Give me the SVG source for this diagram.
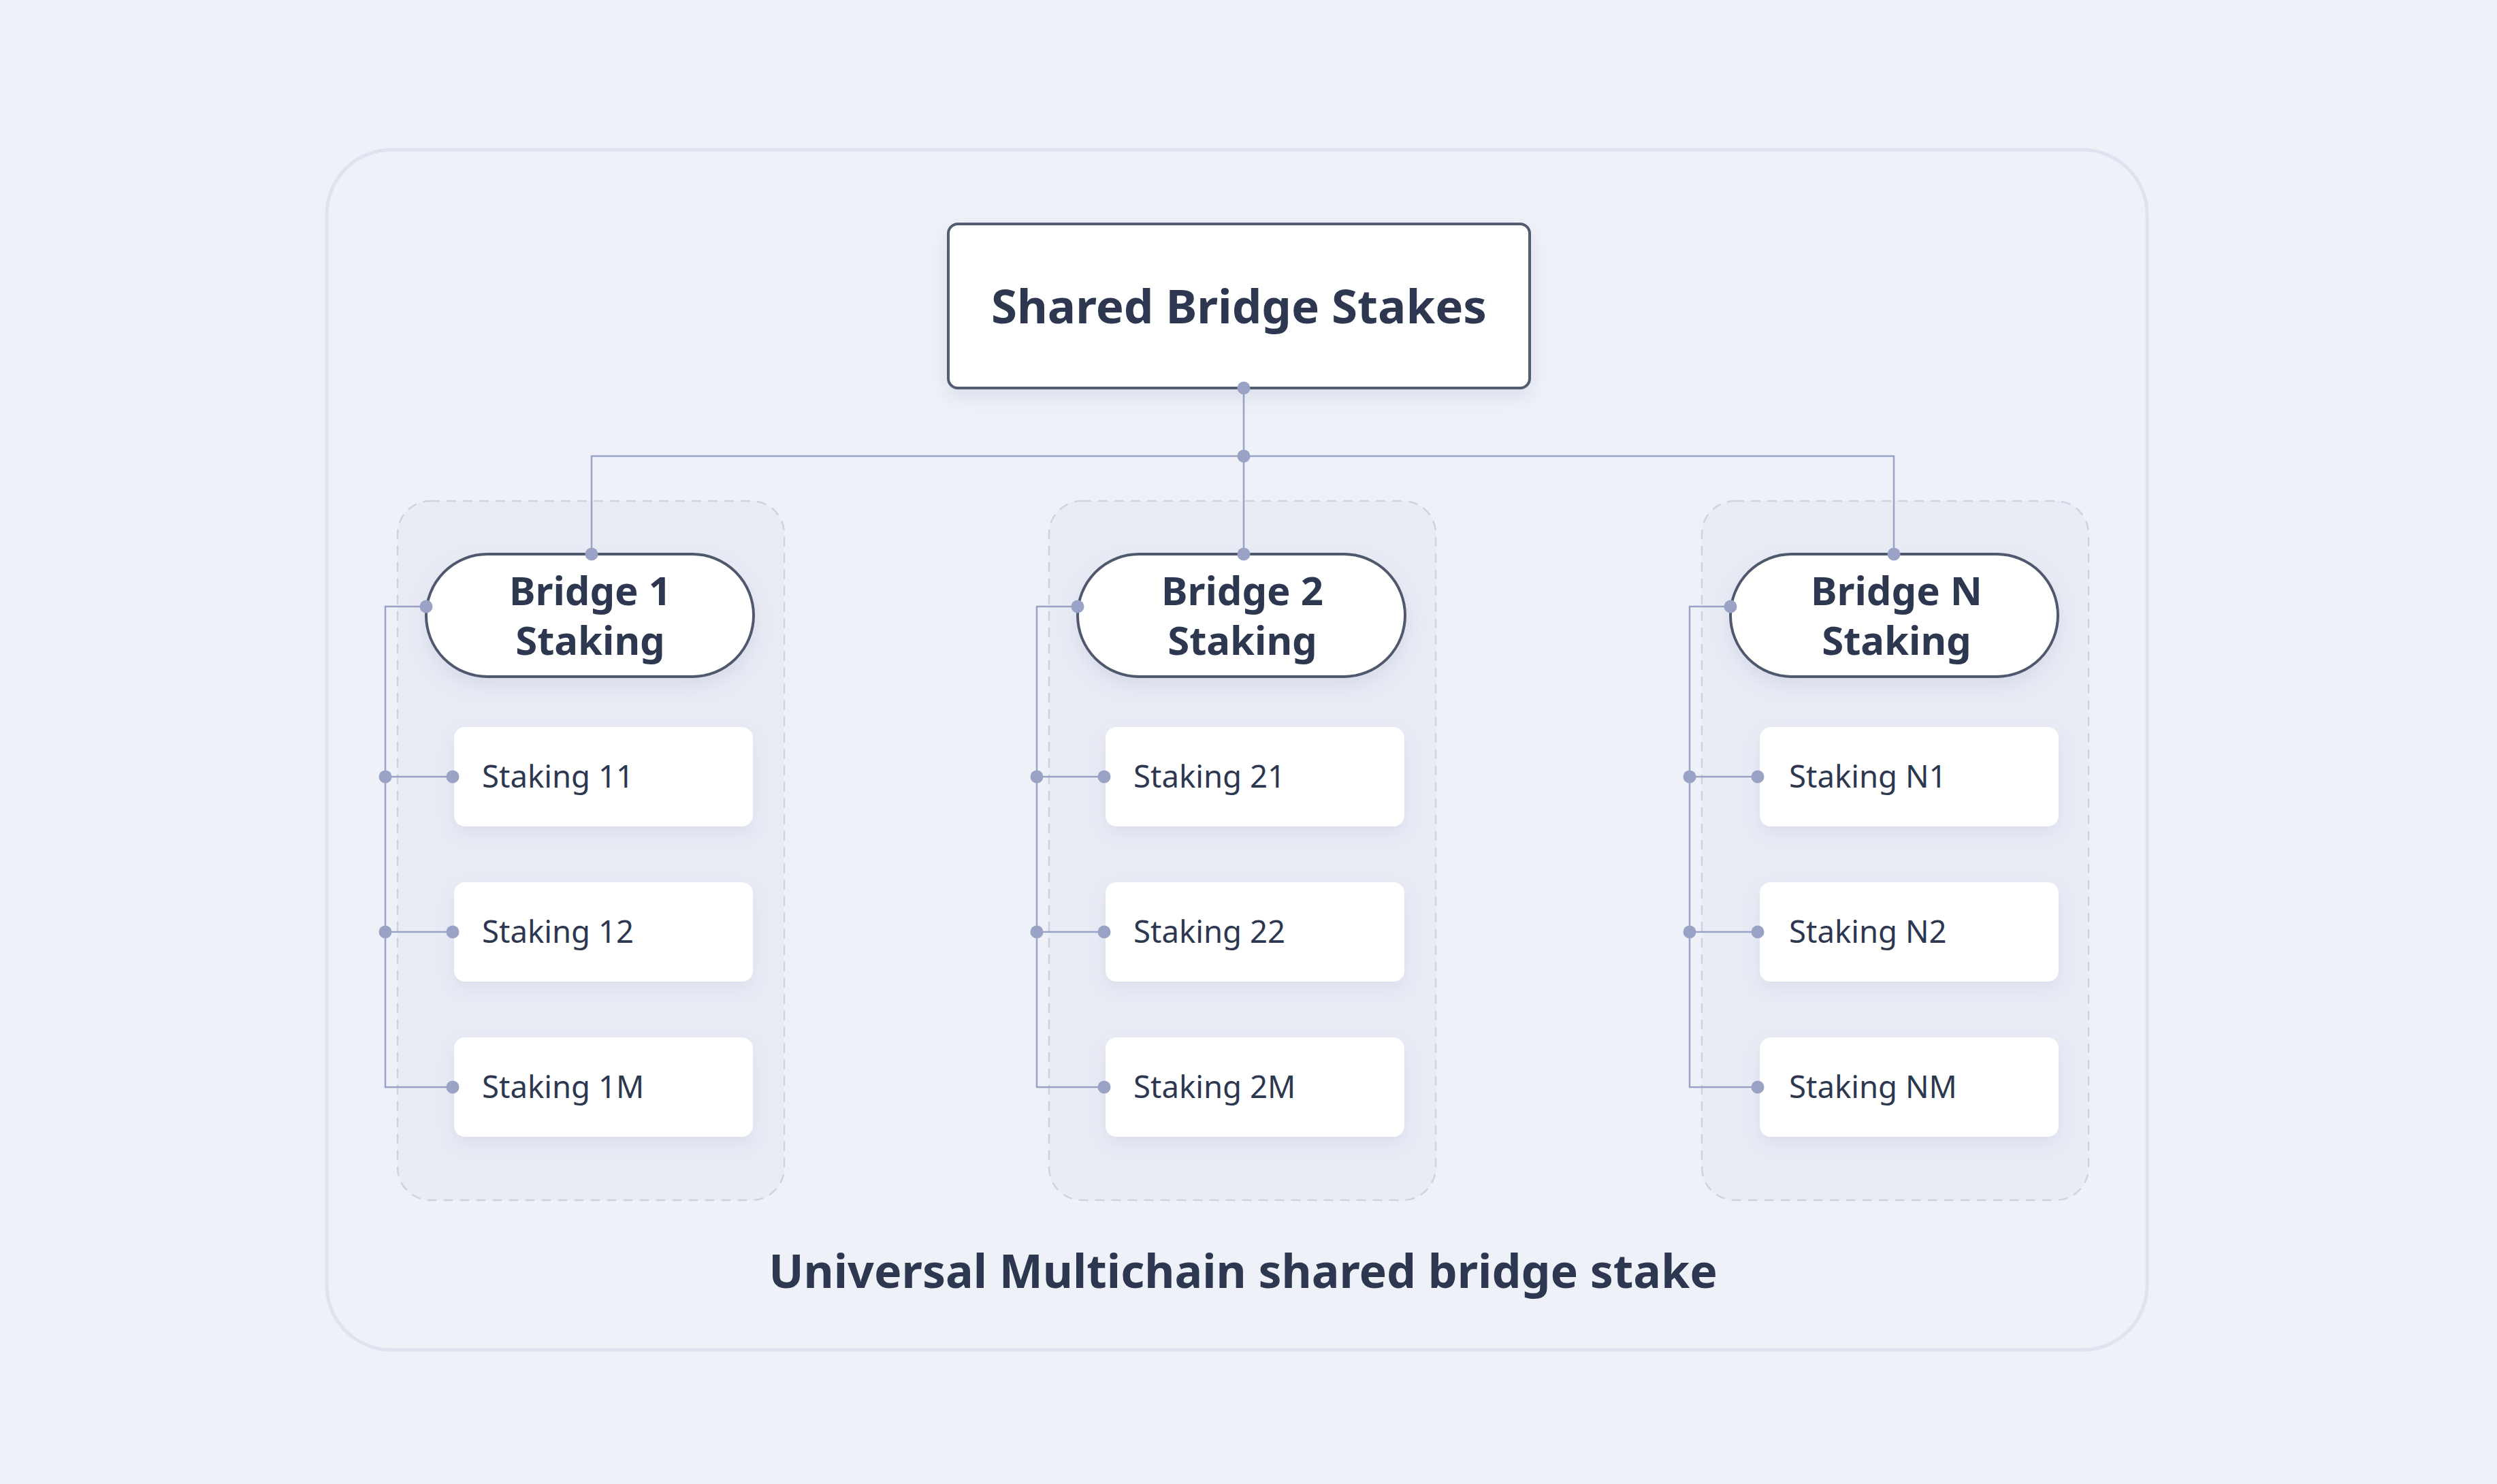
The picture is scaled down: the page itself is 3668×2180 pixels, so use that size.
<svg xmlns="http://www.w3.org/2000/svg" width="3668" height="2180" viewBox="0 0 3668 2180">
<defs>
<filter id="sh" x="-20%" y="-30%" width="140%" height="170%">
<feDropShadow dx="0" dy="12" stdDeviation="14" flood-color="#7f8ab0" flood-opacity="0.18"/>
</filter>
<filter id="shs" x="-20%" y="-30%" width="140%" height="180%">
<feDropShadow dx="0" dy="10" stdDeviation="12" flood-color="#7f8ab0" flood-opacity="0.14"/>
</filter>
<style>
.bg{fill:#eef1f8}
.outer{fill:#eef1f8;stroke:#dfe3ef;stroke-width:5}
.grp{fill:#e9ecf5;stroke:#cdd3e1;stroke-width:2.5;stroke-dasharray:14 10}
.top{fill:#ffffff;stroke:#535d72;stroke-width:4;filter:url(#sh)}
.pill{fill:#ffffff;stroke:#4f596d;stroke-width:4;filter:url(#sh)}
.child{fill:#ffffff;filter:url(#shs)}
.ln{fill:none;stroke:#9aa3c5;stroke-width:2.5}
.dot{fill:#9aa3c5}
.tb{font-family:"Noto Sans","Liberation Sans",sans-serif;font-weight:700;fill:#2d3850;text-anchor:middle}
.tr{font-family:"Noto Sans","Liberation Sans",sans-serif;font-weight:400;fill:#2d3850;font-size:45.5px}
</style>
</defs>
<rect class="bg" x="0" y="0" width="3668" height="2180"/>
<g id="container">
<rect class="outer" x="480" y="220" width="2674" height="1763" rx="95"/>
<text class="tb" x="1826" y="1892" font-size="68">Universal Multichain shared bridge stake</text>
</g>
<g id="group-1"><rect class="grp" x="584" y="736" width="568" height="1027" rx="48"/></g>
<g id="group-2"><rect class="grp" x="1541" y="736" width="568" height="1027" rx="48"/></g>
<g id="group-N"><rect class="grp" x="2500" y="736" width="568" height="1027" rx="48"/></g>

<g id="connectors">
<path class="ln" d="M1827 570 V670 M869 814 V670 H2782 V814 M1827 670 V814"/>
<path class="ln" d="M626 891 H566 V1597 H666 M566 1141 H666 M566 1369 H666"/>
<path class="ln" d="M1583 891 H1523 V1597 H1623 M1523 1141 H1623 M1523 1369 H1623"/>
<path class="ln" d="M2542 891 H2482 V1597 H2582 M2482 1141 H2582 M2482 1369 H2582"/>
</g>

<g id="shared-bridge-stakes">
<rect class="top" x="1393" y="329" width="854" height="241" rx="14"/>
<text class="tb" x="1820" y="475" font-size="69">Shared Bridge Stakes</text>
</g>

<g id="bridge-1">
<rect class="pill" x="626" y="814" width="481" height="180" rx="90"/>
<text class="tb" font-size="58"><tspan x="867" y="889">Bridge 1</tspan><tspan x="867" y="962">Staking</tspan></text>
</g>
<g id="bridge-2">
<rect class="pill" x="1583" y="814" width="481" height="180" rx="90"/>
<text class="tb" font-size="58"><tspan x="1825" y="889">Bridge 2</tspan><tspan x="1825" y="962">Staking</tspan></text>
</g>
<g id="bridge-N">
<rect class="pill" x="2542" y="814" width="481" height="180" rx="90"/>
<text class="tb" font-size="58"><tspan x="2786" y="889">Bridge N</tspan><tspan x="2786" y="962">Staking</tspan></text>
</g>

<g id="staking-11"><rect class="child" x="667" y="1068" width="439" height="146" rx="16"/><text class="tr" x="708" y="1157">Staking 11</text></g>
<g id="staking-12"><rect class="child" x="667" y="1296" width="439" height="146" rx="16"/><text class="tr" x="708" y="1385">Staking 12</text></g>
<g id="staking-1M"><rect class="child" x="667" y="1524" width="439" height="146" rx="16"/><text class="tr" x="708" y="1613">Staking 1M</text></g>

<g id="staking-21"><rect class="child" x="1624" y="1068" width="439" height="146" rx="16"/><text class="tr" x="1665" y="1157">Staking 21</text></g>
<g id="staking-22"><rect class="child" x="1624" y="1296" width="439" height="146" rx="16"/><text class="tr" x="1665" y="1385">Staking 22</text></g>
<g id="staking-2M"><rect class="child" x="1624" y="1524" width="439" height="146" rx="16"/><text class="tr" x="1665" y="1613">Staking 2M</text></g>

<g id="staking-N1"><rect class="child" x="2585" y="1068" width="439" height="146" rx="16"/><text class="tr" x="2628" y="1157">Staking N1</text></g>
<g id="staking-N2"><rect class="child" x="2585" y="1296" width="439" height="146" rx="16"/><text class="tr" x="2628" y="1385">Staking N2</text></g>
<g id="staking-NM"><rect class="child" x="2585" y="1524" width="439" height="146" rx="16"/><text class="tr" x="2628" y="1613">Staking NM</text></g>

<g id="connector-dots">
<circle class="dot" cx="1827" cy="570" r="9.5"/>
<circle class="dot" cx="1827" cy="670" r="9.5"/>
<circle class="dot" cx="869" cy="814" r="9.5"/>
<circle class="dot" cx="1827" cy="814" r="9.5"/>
<circle class="dot" cx="2782" cy="814" r="9.5"/>
<circle class="dot" cx="626" cy="891" r="9.5"/>
<circle class="dot" cx="1583" cy="891" r="9.5"/>
<circle class="dot" cx="2542" cy="891" r="9.5"/>
<circle class="dot" cx="566" cy="1141" r="9.5"/>
<circle class="dot" cx="566" cy="1369" r="9.5"/>
<circle class="dot" cx="665" cy="1141" r="9.5"/>
<circle class="dot" cx="665" cy="1369" r="9.5"/>
<circle class="dot" cx="665" cy="1597" r="9.5"/>
<circle class="dot" cx="1523" cy="1141" r="9.5"/>
<circle class="dot" cx="1523" cy="1369" r="9.5"/>
<circle class="dot" cx="1622" cy="1141" r="9.5"/>
<circle class="dot" cx="1622" cy="1369" r="9.5"/>
<circle class="dot" cx="1622" cy="1597" r="9.5"/>
<circle class="dot" cx="2482" cy="1141" r="9.5"/>
<circle class="dot" cx="2482" cy="1369" r="9.5"/>
<circle class="dot" cx="2582" cy="1141" r="9.5"/>
<circle class="dot" cx="2582" cy="1369" r="9.5"/>
<circle class="dot" cx="2582" cy="1597" r="9.5"/>
</g>
</svg>
